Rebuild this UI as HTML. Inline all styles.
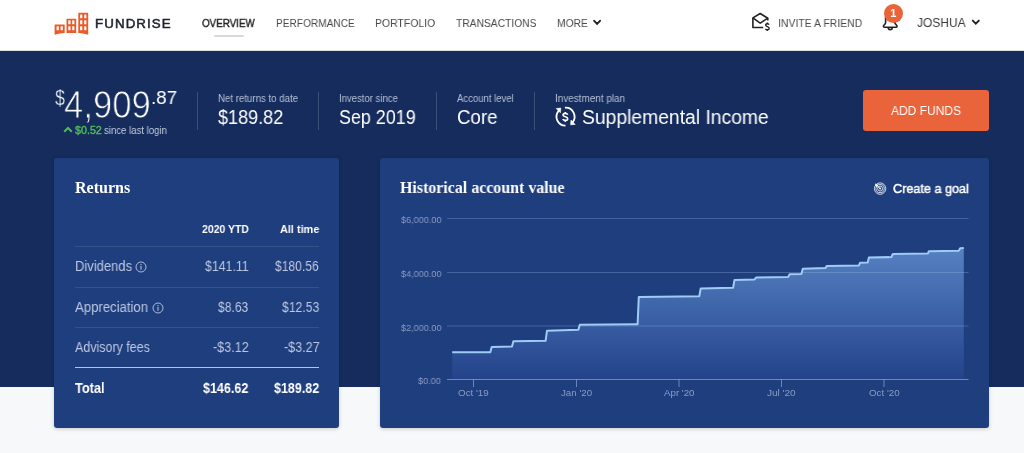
<!DOCTYPE html>
<html><head><meta charset="utf-8">
<style>
*{margin:0;padding:0;box-sizing:border-box}
html,body{width:1024px;height:453px;overflow:hidden;background:#f7f8fa;font-family:"Liberation Sans",sans-serif}
.a{position:absolute;white-space:nowrap;line-height:1;will-change:transform}
#hdr{position:absolute;left:0;top:0;width:1024px;height:51px;background:#fff;border-bottom:1px solid #dedfe3}
#band{position:absolute;left:0;top:51px;width:1024px;height:336px;background:#152c5c}
.card{position:absolute;background:#1f3e7e;border-radius:3px;box-shadow:0 1px 4px rgba(0,0,0,.18)}
.div{position:absolute;width:1px;top:92px;height:38px;background:rgba(255,255,255,.17)}
.row{position:absolute;left:75px;width:244px;height:1px;background:rgba(255,255,255,.105)}
</style></head><body>
<div id="hdr"></div>
<div id="band"></div>

<!-- logo -->
<svg class="a" style="left:50px;top:10px" width="42" height="28" viewBox="50 10 42 28">
  <g fill="#ea5b2a">
    <path d="M55.1 24.5 H64.2 Q64.7 24.5 64.7 25 V32.9 Q59.6 33.2 54.6 34.7 V25 Q54.6 24.5 55.1 24.5 Z"/>
    <path d="M67 18.7 H75.7 Q76.2 18.7 76.2 19.2 V32.9 H66.5 V19.2 Q66.5 18.7 67 18.7 Z"/>
    <path d="M78.8 12.8 H87.7 Q88.2 12.8 88.2 13.3 V34.7 Q83.2 33.3 78.3 33.1 V13.3 Q78.3 12.8 78.8 12.8 Z"/>
  </g>
  <g fill="#fff">
    <rect x="56.6" y="26.3" width="2.2" height="4" rx=".5"/><rect x="60.6" y="26.3" width="2.2" height="4" rx=".5"/>
    <rect x="68.3" y="20.3" width="2.2" height="4" rx=".5"/><rect x="72.2" y="20.3" width="2.2" height="4" rx=".5"/>
    <rect x="68.3" y="26.3" width="2.2" height="4" rx=".5"/><rect x="72.2" y="26.3" width="2.2" height="4" rx=".5"/>
    <rect x="80.1" y="14.5" width="2.2" height="3.8" rx=".5"/><rect x="84.2" y="14.5" width="2.2" height="3.8" rx=".5"/>
    <rect x="80.1" y="20.3" width="2.2" height="4" rx=".5"/><rect x="84.2" y="20.3" width="2.2" height="4" rx=".5"/>
    <rect x="80.1" y="26.3" width="2.2" height="4" rx=".5"/><rect x="84.2" y="26.3" width="2.2" height="4" rx=".5"/>
  </g>
</svg>

<div class="a" style="left:213.9px;top:35px;width:29.5px;height:1.9px;background:#d8dada;border-radius:1px"></div>
<svg class="a" style="left:593px;top:19px" width="9" height="7" viewBox="0 0 9 7"><path d="M1.2 1.8 L4.1 4.9 L7.0 1.8" fill="none" stroke="#222" stroke-width="1.9" stroke-linecap="round"/></svg>

<!-- invite -->
<svg class="a" style="left:748px;top:8px" width="26" height="26" viewBox="748 8 26 26">
  <path d="M763.2 27.5 H752.9 V17.9 L760.2 13.5 L767.8 18.2 V20.6" fill="none" stroke="#222" stroke-width="1.6" stroke-linejoin="round"/>
  <path d="M752.9 17.9 L760.2 23.1 L767.8 18.2" fill="none" stroke="#222" stroke-width="1.6" stroke-linejoin="round"/>
  <path d="M769.1 24.6 C768.6 23.9 767.9 23.7 767.3 23.7 C766.3 23.7 765.6 24.3 765.6 25.1 C765.6 27 769.2 26.3 769.2 28.4 C769.2 29.3 768.4 29.8 767.3 29.8 C766.6 29.8 765.8 29.5 765.4 28.9 M767.35 22.6 V23.7 M767.35 29.8 V31" fill="none" stroke="#222" stroke-width="1.4"/>
</svg>
<!-- bell -->
<svg class="a" style="left:878px;top:8px" width="24" height="26" viewBox="878 8 24 26">
  <path d="M890.2 12 C886.6 12 885.6 14.5 885.6 17.5 V22.8 C885.6 24.4 883.4 24.9 883.4 26.3 Q883.4 27.2 884.3 27.2 H896.2 Q897.1 27.2 897.1 26.3 C897.1 24.9 894.9 24.4 894.9 22.8 V17.5 C894.9 14.5 893.8 12 890.2 12 Z" fill="none" stroke="#222" stroke-width="1.6" stroke-linejoin="round"/>
  <path d="M888.2 27.6 A2.05 2.05 0 0 0 892.3 27.6" fill="none" stroke="#222" stroke-width="1.6"/>
</svg>
<div class="a" style="left:884.1px;top:4.1px;width:18.8px;height:18.8px;border-radius:50%;background:#ea6339"></div>
<div class="a" style="left:884.1px;top:8px;width:18.8px;text-align:center;color:#fff;font-size:11px;font-weight:bold">1</div>
<svg class="a" style="left:971px;top:19px" width="10" height="8" viewBox="0 0 10 8"><path d="M1.8 1.6 L4.8 4.6 L7.8 1.6" fill="none" stroke="#222" stroke-width="1.9" stroke-linecap="round"/></svg>

<!-- summary -->
<svg class="a" style="left:63px;top:126px" width="10" height="7" viewBox="0 0 10 7"><path d="M1.2 5.8 L5 2 L8.8 5.8" fill="none" stroke="#52b95a" stroke-width="2"/></svg>
<div class="div" style="left:197px"></div>
<div class="div" style="left:318px"></div>
<div class="div" style="left:436px"></div>
<div class="div" style="left:534px"></div>
<svg class="a" style="left:550px;top:102px" width="30" height="28" viewBox="550 102 30 28">
  <g fill="none" stroke="#fff" stroke-width="1.8">
    <path d="M565.5 125.7 A9 9 0 0 1 558.8 110.7"/>
    <path d="M564.9 107.7 A9 9 0 0 1 572.4 122.5"/>
  </g>
  <path d="M560.8 108.1 L556.2 108.5 L560.4 112.8 Z M570.6 124.8 L575.2 124.4 L571 120.1 Z" fill="#fff" stroke="#fff" stroke-width=".6" stroke-linejoin="round"/>
  <path d="M567.8 114.6 C567.3 113.8 566.4 113.4 565.3 113.4 C563.9 113.4 563 114.1 563 115.1 C563 117.3 567.7 116.4 567.7 118.7 C567.7 119.8 566.7 120.4 565.3 120.4 C564.2 120.4 563.2 120 562.7 119.2 M565.3 112 V113.4 M565.3 120.4 V121.9" fill="none" stroke="#fff" stroke-width="1.6"/>
</svg>
<div class="a" style="left:862.9px;top:90.3px;width:126.3px;height:40.5px;background:#e9643b;border-radius:3px"></div>

<!-- returns card -->
<div class="card" style="left:54.2px;top:158.4px;width:284.8px;height:269.7px"></div>
<div class="row" style="top:246px"></div>
<svg class="a" style="left:134.5px;top:261px" width="12" height="12" viewBox="0 0 12 12"><circle cx="6" cy="6" r="5" fill="none" stroke="#aebcd8" stroke-width="1"/><circle cx="6" cy="3.7" r=".65" fill="#aebcd8"/><rect x="5.45" y="5" width="1.1" height="3.7" fill="#aebcd8"/></svg>
<div class="row" style="top:286.5px"></div>
<svg class="a" style="left:151.5px;top:301.5px" width="12" height="12" viewBox="0 0 12 12"><circle cx="6" cy="6" r="5" fill="none" stroke="#aebcd8" stroke-width="1"/><circle cx="6" cy="3.7" r=".65" fill="#aebcd8"/><rect x="5.45" y="5" width="1.1" height="3.7" fill="#aebcd8"/></svg>
<div class="row" style="top:327px"></div>
<div class="row" style="top:367px;background:rgba(220,228,250,.8)"></div>

<!-- chart card -->
<div class="card" style="left:380px;top:158.4px;width:608.8px;height:269.7px"></div>
<svg class="a" style="left:870px;top:179px" width="20" height="20" viewBox="870 179 20 20">
  <g fill="none" stroke="#e6eaf5" stroke-width=".9">
    <circle cx="880.1" cy="188.6" r="5.7"/>
    <circle cx="880.1" cy="188.6" r="4.1"/>
    <circle cx="880.1" cy="188.6" r="2.5"/>
  </g>
  <circle cx="880.1" cy="188.6" r="1" fill="#e6eaf5"/>
  <path d="M880.1 188.6 L876.5 185" stroke="#fff" stroke-width="1"/>
  <path d="M875 183.6 L877.6 184.4 L878.2 185.6 L876.9 186.9 L875.7 186.3 Z" fill="#fff"/>
</svg>
<svg class="a" style="left:380px;top:158px" width="610" height="270" viewBox="380 158 610 270">
  <defs>
    <linearGradient id="g" x1="0" y1="0" x2="0" y2="1">
      <stop offset="0" stop-color="#5681c2"/>
      <stop offset="1" stop-color="#23428a"/>
    </linearGradient>
  </defs>
  <path id="area" fill="url(#g)" d="M452.2 352.3 L490.3 352.2 L491.7 346.9 L512.0 346.6 L513.4 341.2 L545.6 340.8 L547.0 330.7 L578.4 329.7 L579.8 324.8 L637.6 324.3 L638.8 297.0 L699.3 296.2 L700.7 288.4 L733.1 287.8 L734.5 280.0 L754.6 279.5 L756.0 277.5 L788.2 276.9 L789.6 274.3 L801.4 274.1 L802.8 268.7 L825.4 268.1 L826.8 265.9 L858.9 265.4 L860.1 262.7 L867.7 262.5 L868.9 257.5 L891.4 257.1 L892.8 254.0 L927.8 253.6 L928.9 251.3 L958.7 250.8 L960.2 248.3 L963.8 248.1 L963.8 379.5 L452.2 379.5 Z"/>
  <g stroke="rgba(160,185,230,.30)" stroke-width="1">
    <path d="M447 218.5 H968.5"/>
    <path d="M447 272.5 H968.5"/>
    <path d="M447 326 H968.5"/>
  </g>
  <path d="M447 379.5 H968.5" stroke="rgba(170,195,235,.55)" stroke-width="1"/>
  <g stroke="rgba(170,195,235,.55)" stroke-width="1">
    <path d="M473.5 379.5 V387"/><path d="M576.5 379.5 V387"/><path d="M679 379.5 V387"/><path d="M781.5 379.5 V387"/><path d="M884 379.5 V387"/>
  </g>
  <path id="line" fill="none" stroke="#9fcbf7" stroke-width="2" stroke-linejoin="round" d="M452.2 352.3 L490.3 352.2 L491.7 346.9 L512.0 346.6 L513.4 341.2 L545.6 340.8 L547.0 330.7 L578.4 329.7 L579.8 324.8 L637.6 324.3 L638.8 297.0 L699.3 296.2 L700.7 288.4 L733.1 287.8 L734.5 280.0 L754.6 279.5 L756.0 277.5 L788.2 276.9 L789.6 274.3 L801.4 274.1 L802.8 268.7 L825.4 268.1 L826.8 265.9 L858.9 265.4 L860.1 262.7 L867.7 262.5 L868.9 257.5 L891.4 257.1 L892.8 254.0 L927.8 253.6 L928.9 251.3 L958.7 250.8 L960.2 248.3 L963.8 248.1"/>
</svg>
<div class="a" style="left:94.80px;top:17.20px;font-family:'Liberation Sans',sans-serif;font-weight:400;font-size:13.3px;color:#1f232c;-webkit-text-stroke:0.55px #1f232c;letter-spacing:1.100px">FUNDRISE</div>
<div class="a" style="left:202.20px;top:16.70px;font-family:'Liberation Sans',sans-serif;font-weight:400;font-size:11.7px;color:#262626;transform:scaleX(0.8397);transform-origin:0 0;-webkit-text-stroke:0.45px #262626">OVERVIEW</div>
<div class="a" style="left:275.83px;top:16.70px;font-family:'Liberation Sans',sans-serif;font-weight:400;font-size:11.7px;color:#4a4a4a;transform:scaleX(0.8663);transform-origin:0 0">PERFORMANCE</div>
<div class="a" style="left:374.81px;top:16.70px;font-family:'Liberation Sans',sans-serif;font-weight:400;font-size:11.7px;color:#4a4a4a;transform:scaleX(0.8939);transform-origin:0 0">PORTFOLIO</div>
<div class="a" style="left:456.20px;top:16.70px;font-family:'Liberation Sans',sans-serif;font-weight:400;font-size:11.7px;color:#4a4a4a;transform:scaleX(0.8791);transform-origin:0 0">TRANSACTIONS</div>
<div class="a" style="left:556.52px;top:16.70px;font-family:'Liberation Sans',sans-serif;font-weight:400;font-size:11.7px;color:#4a4a4a;transform:scaleX(0.8788);transform-origin:0 0">MORE</div>
<div class="a" style="left:778.01px;top:16.70px;font-family:'Liberation Sans',sans-serif;font-weight:400;font-size:11.7px;color:#4a4a4a;transform:scaleX(0.8946);transform-origin:0 0">INVITE A FRIEND</div>
<div class="a" style="left:917.09px;top:16.20px;font-family:'Liberation Sans',sans-serif;font-weight:400;font-size:13.1px;color:#3a3a3a;transform:scaleX(0.9135);transform-origin:0 0">JOSHUA</div>
<div class="a" style="left:54.96px;top:87.40px;font-family:'Liberation Sans',sans-serif;font-weight:400;font-size:22.5px;color:#fff;transform:scaleX(0.7864);transform-origin:0 0;-webkit-text-stroke:0.35px #152c5c">$</div>
<div class="a" style="left:64.41px;top:84.75px;font-family:'Liberation Sans',sans-serif;font-weight:400;font-size:39.2px;color:#fff;transform:scaleX(0.8853);transform-origin:0 0;-webkit-text-stroke:0.9px #152c5c">4,909</div>
<div class="a" style="left:150.54px;top:88.40px;font-family:'Liberation Sans',sans-serif;font-weight:400;font-size:19.2px;color:#fff;transform:scaleX(0.9792);transform-origin:0 0">.87</div>
<div class="a" style="left:74.50px;top:125.20px;font-family:'Liberation Sans',sans-serif;font-weight:400;font-size:10.5px;color:#52b95a;transform:scaleX(1.0192);transform-origin:0 0;-webkit-text-stroke:0.4px #52b95a">$0.52</div>
<div class="a" style="left:103.59px;top:125.20px;font-family:'Liberation Sans',sans-serif;font-weight:400;font-size:10.6px;color:#c3cde0;transform:scaleX(0.9059);transform-origin:0 0">since last login</div>
<div class="a" style="left:217.55px;top:93.80px;font-family:'Liberation Sans',sans-serif;font-weight:400;font-size:10.2px;color:#b4c0d8;transform:scaleX(0.9482);transform-origin:0 0">Net returns to date</div>
<div class="a" style="left:338.81px;top:93.80px;font-family:'Liberation Sans',sans-serif;font-weight:400;font-size:10.2px;color:#b4c0d8;transform:scaleX(0.9369);transform-origin:0 0">Investor since</div>
<div class="a" style="left:457.30px;top:93.80px;font-family:'Liberation Sans',sans-serif;font-weight:400;font-size:10.2px;color:#b4c0d8;transform:scaleX(0.9350);transform-origin:0 0">Account level</div>
<div class="a" style="left:554.63px;top:93.80px;font-family:'Liberation Sans',sans-serif;font-weight:400;font-size:10.2px;color:#b4c0d8;transform:scaleX(0.9743);transform-origin:0 0">Investment plan</div>
<div class="a" style="left:218.28px;top:108.00px;font-family:'Liberation Sans',sans-serif;font-weight:400;font-size:19.5px;color:#fff;transform:scaleX(0.9246);transform-origin:0 0">$189.82</div>
<div class="a" style="left:338.98px;top:108.00px;font-family:'Liberation Sans',sans-serif;font-weight:400;font-size:19.5px;color:#fff;transform:scaleX(0.9183);transform-origin:0 0">Sep 2019</div>
<div class="a" style="left:457.04px;top:108.00px;font-family:'Liberation Sans',sans-serif;font-weight:400;font-size:19.5px;color:#fff;transform:scaleX(0.9575);transform-origin:0 0">Core</div>
<div class="a" style="left:582.31px;top:108.00px;font-family:'Liberation Sans',sans-serif;font-weight:400;font-size:19.5px;color:#fff;transform:scaleX(0.9898);transform-origin:0 0">Supplemental Income</div>
<div class="a" style="left:891.00px;top:104.00px;font-family:'Liberation Sans',sans-serif;font-weight:400;font-size:13.0px;color:#fff;transform:scaleX(0.9227);transform-origin:0 0">ADD FUNDS</div>
<div class="a" style="left:75.20px;top:179.50px;font-family:'Liberation Serif',serif;font-weight:700;font-size:16px;color:#fff;transform:scaleX(0.9963);transform-origin:0 0">Returns</div>
<div class="a" style="left:201.50px;top:223.00px;font-family:'Liberation Sans',sans-serif;font-weight:700;font-size:11.6px;color:#fff;transform:scaleX(0.9039);transform-origin:0 0">2020 YTD</div>
<div class="a" style="left:279.80px;top:223.00px;font-family:'Liberation Sans',sans-serif;font-weight:700;font-size:11.6px;color:#fff;transform:scaleX(0.9390);transform-origin:0 0">All time</div>
<div class="a" style="left:74.56px;top:260.30px;font-family:'Liberation Sans',sans-serif;font-weight:400;font-size:13.8px;color:#bcc8e2;transform:scaleX(0.9407);transform-origin:0 0">Dividends</div>
<div class="a" style="left:204.70px;top:260.30px;font-family:'Liberation Sans',sans-serif;font-weight:400;font-size:13.8px;color:#bcc8e2;transform:scaleX(0.8938);transform-origin:0 0">$141.11</div>
<div class="a" style="left:275.40px;top:260.30px;font-family:'Liberation Sans',sans-serif;font-weight:400;font-size:13.8px;color:#bcc8e2;transform:scaleX(0.8755);transform-origin:0 0">$180.56</div>
<div class="a" style="left:75.10px;top:300.60px;font-family:'Liberation Sans',sans-serif;font-weight:400;font-size:13.8px;color:#bcc8e2;transform:scaleX(0.9526);transform-origin:0 0">Appreciation</div>
<div class="a" style="left:218.00px;top:300.60px;font-family:'Liberation Sans',sans-serif;font-weight:400;font-size:13.8px;color:#bcc8e2;transform:scaleX(0.8765);transform-origin:0 0">$8.63</div>
<div class="a" style="left:282.00px;top:300.60px;font-family:'Liberation Sans',sans-serif;font-weight:400;font-size:13.8px;color:#bcc8e2;transform:scaleX(0.8854);transform-origin:0 0">$12.53</div>
<div class="a" style="left:75.10px;top:341.30px;font-family:'Liberation Sans',sans-serif;font-weight:400;font-size:13.8px;color:#bcc8e2;transform:scaleX(0.9037);transform-origin:0 0">Advisory fees</div>
<div class="a" style="left:213.09px;top:341.30px;font-family:'Liberation Sans',sans-serif;font-weight:400;font-size:13.8px;color:#bcc8e2;transform:scaleX(0.9135);transform-origin:0 0">-$3.12</div>
<div class="a" style="left:283.69px;top:341.30px;font-family:'Liberation Sans',sans-serif;font-weight:400;font-size:13.8px;color:#bcc8e2;transform:scaleX(0.9108);transform-origin:0 0">-$3.27</div>
<div class="a" style="left:75.10px;top:381.90px;font-family:'Liberation Sans',sans-serif;font-weight:700;font-size:13.8px;color:#fff;transform:scaleX(0.9258);transform-origin:0 0">Total</div>
<div class="a" style="left:203.30px;top:381.90px;font-family:'Liberation Sans',sans-serif;font-weight:700;font-size:13.8px;color:#fff;transform:scaleX(0.9082);transform-origin:0 0">$146.62</div>
<div class="a" style="left:273.90px;top:381.90px;font-family:'Liberation Sans',sans-serif;font-weight:700;font-size:13.8px;color:#fff;transform:scaleX(0.9061);transform-origin:0 0">$189.82</div>
<div class="a" style="left:400.30px;top:180.10px;font-family:'Liberation Serif',serif;font-weight:700;font-size:16.2px;color:#fff;transform:scaleX(0.9838);transform-origin:0 0">Historical account value</div>
<div class="a" style="left:893.40px;top:182.90px;font-family:'Liberation Sans',sans-serif;font-weight:400;font-size:12.8px;color:#fff;transform:scaleX(0.9882);transform-origin:0 0;-webkit-text-stroke:0.45px #fff">Create a goal</div>
<div class="a" style="left:400.60px;top:214.80px;font-family:'Liberation Sans',sans-serif;font-weight:400;font-size:9.4px;color:#8b9cc4;transform:scaleX(0.9707);transform-origin:0 0">$6,000.00</div>
<div class="a" style="left:400.60px;top:269.20px;font-family:'Liberation Sans',sans-serif;font-weight:400;font-size:9.4px;color:#8b9cc4;transform:scaleX(0.9707);transform-origin:0 0">$4,000.00</div>
<div class="a" style="left:400.60px;top:322.80px;font-family:'Liberation Sans',sans-serif;font-weight:400;font-size:9.4px;color:#8b9cc4;transform:scaleX(0.9707);transform-origin:0 0">$2,000.00</div>
<div class="a" style="left:418.07px;top:375.90px;font-family:'Liberation Sans',sans-serif;font-weight:400;font-size:9.4px;color:#8b9cc4;transform:scaleX(0.9707);transform-origin:0 0">$0.00</div>
<div class="a" style="left:458.05px;top:387.80px;font-family:'Liberation Sans',sans-serif;font-weight:400;font-size:9.4px;color:#8b9cc4;transform:scaleX(1.0464);transform-origin:0 0">Oct '19</div>
<div class="a" style="left:561.16px;top:387.80px;font-family:'Liberation Sans',sans-serif;font-weight:400;font-size:9.4px;color:#8b9cc4;transform:scaleX(1.0379);transform-origin:0 0">Jan '20</div>
<div class="a" style="left:664.20px;top:387.80px;font-family:'Liberation Sans',sans-serif;font-weight:400;font-size:9.4px;color:#8b9cc4;transform:scaleX(1.0379);transform-origin:0 0">Apr '20</div>
<div class="a" style="left:767.23px;top:387.80px;font-family:'Liberation Sans',sans-serif;font-weight:400;font-size:9.4px;color:#8b9cc4;transform:scaleX(1.0680);transform-origin:0 0">Jul '20</div>
<div class="a" style="left:869.16px;top:387.80px;font-family:'Liberation Sans',sans-serif;font-weight:400;font-size:9.4px;color:#8b9cc4;transform:scaleX(1.0429);transform-origin:0 0">Oct '20</div>
</body></html>
